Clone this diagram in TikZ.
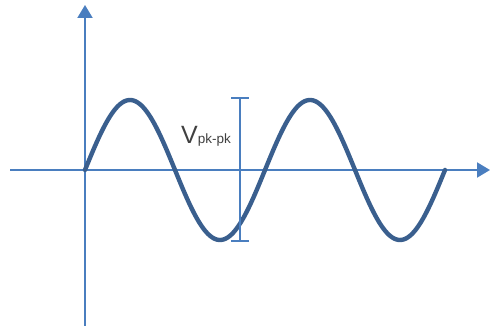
\documentclass[tikz,border=0pt]{standalone}
\usepackage{fontspec}
\setmainfont{Liberation Sans}
\usetikzlibrary{arrows.meta,positioning}
\definecolor{AxisBlue}{HTML}{4A7EBF}
\definecolor{WaveBlue}{HTML}{3A5F8E}
\definecolor{LabelGray}{HTML}{404040}
\tikzset{
  axisline/.style={line width=2pt,draw=AxisBlue,-{Triangle[length=13pt,width=15pt]}},
  waveline/.style={line width=4.4pt,draw=WaveBlue,line cap=round},
  spanbar/.style={line width=1.6pt,draw=AxisBlue,{Bar[width=18pt]}-{Bar[width=18pt]}},
  spanlabel/.style={text=LabelGray,inner sep=0pt,anchor=base east}
}

\begin{document}
\begin{tikzpicture}[x=1pt,y=-1pt]
\useasboundingbox (0,0) rectangle (490,326);
% axes
\coordinate (xs) at (10,170);
\coordinate (xe) at (490,170);
\coordinate (ys) at (85,326);
\coordinate (ye) at (85,5);
\draw[axisline] (xs) -- (xe);
\draw[axisline] (ys) -- (ye);
% signal
\draw[waveline] plot[domain=0:360,samples=200,smooth] ({85+\x},{170-70*sin(2*\x)});
% peak to peak span
\coordinate (top) at (240,97);
\coordinate (bot) at (240,242);
\draw[spanbar] (top) -- (bot);
\node[spanlabel] (vpp) at (231,143) {\fontsize{25}{27}\selectfont V\raisebox{-1pt}{\fontsize{13.5}{15}\selectfont pk-pk}};
\end{tikzpicture}
\end{document}
